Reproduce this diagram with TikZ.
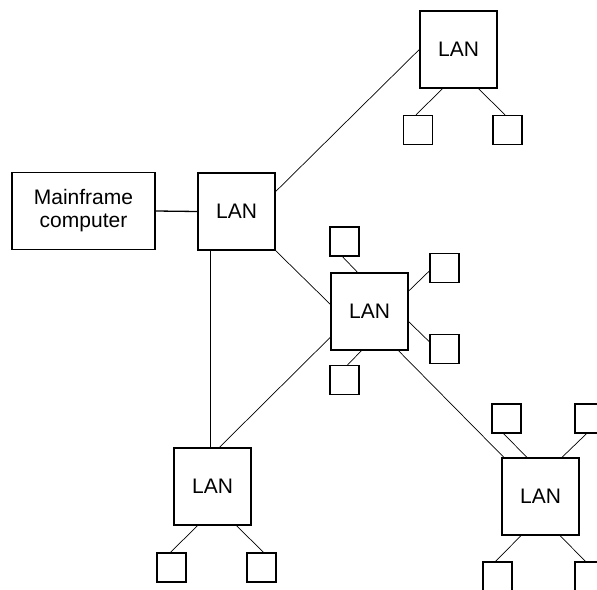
\documentclass[tikz,border=0pt]{standalone}
\usepackage{fontspec}
\setmainfont{Liberation Sans}
\begin{document}
\begin{tikzpicture}[x=1pt,y=-1pt,
  box/.style={draw,line width=1.4pt,inner sep=0pt,font=\fontsize{21}{23}\selectfont},
  lanbox/.style={box,minimum width=77pt,minimum height=77pt},
  term/.style={draw,line width=1.4pt,inner sep=0pt,minimum size=29pt},
  conn/.style={line width=0.7pt}]
\clip (0,0) rectangle (597,589);
\fill[white] (0,0) rectangle (597,589);
% main boxes
\node[box,minimum width=143pt,minimum height=77pt,align=center] (main) at (83.5,211) {Mainframe\\computer};
\node[lanbox] (lan1) at (236.5,211.5) {LAN};
\node[lanbox] (lant) at (458.5,49.5) {LAN};
\node[lanbox] (lanc) at (369.5,311.5) {LAN};
\node[lanbox] (lanbl) at (212.5,486.5) {LAN};
\node[lanbox] (lanbr) at (540.5,496.5) {LAN};
% terminals
\node[term] (t1) at (418,130) {};
\node[term] (t2) at (507.5,130) {};
\node[term] (ctop) at (344.5,241.5) {};
\node[term] (cru) at (444.5,268) {};
\node[term] (crl) at (444.5,349) {};
\node[term] (cbot) at (344.5,380) {};
\node[term] (bl1) at (171.5,567.5) {};
\node[term] (bl2) at (261.5,567.5) {};
\node[term] (brt1) at (506.5,418.5) {};
\node[term] (brt2) at (589.5,418.5) {};
\node[term] (brb1) at (497.5,576.5) {};
\node[term] (brb2) at (589.5,576.5) {};
% backbone
\draw[line width=1.3pt] (main.east) -- (lan1.west);
\draw[conn] ([yshift=20pt]lan1.east) -- (lant.west);
\draw[conn] ([xshift=-26.5pt]lan1.south) -- ([xshift=-26.5pt]lan1.south |- lanbl.north);
\draw[conn] (lan1.south east) -- ([yshift=7.2pt]lanc.west);
\draw[conn] ([yshift=-25.8pt]lanc.west) -- ([xshift=7pt]lanbl.north);
\draw[conn] ([xshift=29pt]lanc.south) -- ([xshift=2.5pt]lanbr.north west);
% terminal links
\draw[conn] ([xshift=-16pt]lant.south) -- ([xshift=-2pt]t1.north);
\draw[conn] ([xshift=20pt]lant.south) -- ([xshift=-2.5pt]t2.north);
\draw[conn] ([xshift=-2pt]ctop.south) -- ([xshift=-12pt]lanc.north);
\draw[conn] ([yshift=-3pt]cru.west) -- ([yshift=20.5pt]lanc.east);
\draw[conn] ([yshift=-10.2pt]lanc.east) -- ([yshift=7.3pt]crl.west);
\draw[conn] ([xshift=-8pt]lanc.south) -- ([xshift=3pt]cbot.north);
\draw[conn] ([xshift=-15pt]lanbl.south) -- ([xshift=-1pt]bl1.north);
\draw[conn] ([xshift=24pt]lanbl.south) -- ([xshift=2pt]bl2.north);
\draw[conn] ([xshift=-3pt]brt1.south) -- ([xshift=-13.5pt]lanbr.north);
\draw[conn] ([xshift=-3pt]brt2.south) -- ([xshift=21.5pt]lanbr.north);
\draw[conn] ([xshift=-19.5pt]lanbr.south) -- ([xshift=-2pt]brb1.north);
\draw[conn] ([xshift=19.5pt]lanbr.south) -- ([xshift=-4pt]brb2.north);
\end{tikzpicture}
\end{document}
